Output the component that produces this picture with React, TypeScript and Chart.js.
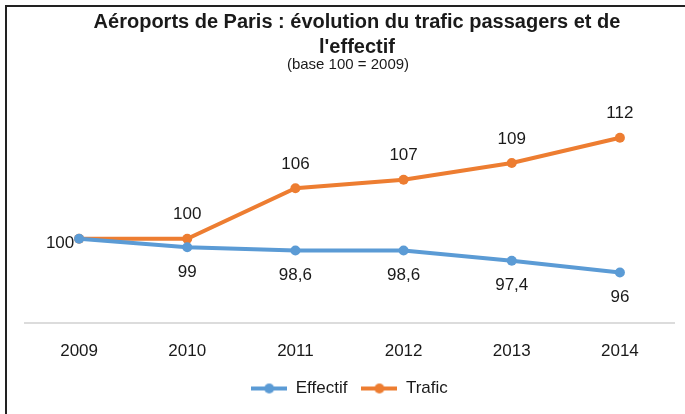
import React, { useEffect, useRef } from "react";
import { Chart, registerables } from "chart.js";

Chart.register(...registerables);

const years = ["2009", "2010", "2011", "2012", "2013", "2014"];
const effectif = [100, 99, 98.6, 98.6, 97.4, 96];
const trafic = [100, 100, 106, 107, 109, 112];
const seriesNames = ["Effectif", "Trafic"];
const titleLines = ["Aéroports de Paris : évolution du trafic passagers et de", "l'effectif"];
const subtitleText = "(base 100 = 2009)";

const BLUE = "#5B9BD5";
const ORANGE = "#ED7D31";
const TEXT = "#1a1a1a";
const FONT = "'Liberation Sans', Arial, sans-serif";

function legendIcon(color: string): HTMLCanvasElement {
  const c = document.createElement("canvas");
  c.width = 36;
  c.height = 12;
  const ctx = c.getContext("2d")!;
  ctx.strokeStyle = color;
  ctx.lineWidth = 4;
  ctx.beginPath();
  ctx.moveTo(0, 6);
  ctx.lineTo(36, 6);
  ctx.stroke();
  ctx.fillStyle = color;
  ctx.beginPath();
  ctx.arc(18, 6, 5, 0, Math.PI * 2);
  ctx.fill();
  return c;
}

const fmt = (v: number) => String(v).replace(".", ",");

const framePlugin = {
  id: "frameTitle",
  beforeDraw(chart: any) {
    const ctx = chart.ctx;
    ctx.save();
    ctx.fillStyle = "#fff";
    ctx.fillRect(0, 0, chart.width, chart.height);
    ctx.strokeStyle = "#222";
    ctx.lineWidth = 2;
    ctx.beginPath();
    ctx.moveTo(6, chart.height);
    ctx.lineTo(6, 6);
    ctx.lineTo(chart.width, 6);
    ctx.stroke();
    ctx.fillStyle = TEXT;
    ctx.textAlign = "center";
    ctx.textBaseline = "middle";
    ctx.font = `bold 20px ${FONT}`;
    ctx.fillText(titleLines[0], 357, 22);
    ctx.fillText(titleLines[1], 357, 47);
    ctx.font = `15px ${FONT}`;
    ctx.fillText(subtitleText, 348, 65);
    ctx.restore();
  },
};

const labelPlugin = {
  id: "pointLabels",
  afterDatasetsDraw(chart: any) {
    const ctx = chart.ctx;
    ctx.save();
    ctx.fillStyle = TEXT;
    ctx.font = `17px ${FONT}`;
    ctx.textAlign = "center";
    ctx.textBaseline = "middle";
    chart.data.datasets.forEach((ds: any, di: number) => {
      const meta = chart.getDatasetMeta(di);
      meta.data.forEach((pt: any, i: number) => {
        const v = ds.data[i];
        if (di === 0) {
          if (i === 0) return;
          ctx.fillText(fmt(v), pt.x, pt.y + 25);
        } else {
          if (i === 0) ctx.fillText(fmt(v), pt.x - 19, pt.y + 5);
          else ctx.fillText(fmt(v), pt.x, pt.y - 24);
        }
      });
    });
    ctx.restore();
  },
};

export default function App() {
  const ref = useRef<HTMLCanvasElement>(null);
  useEffect(() => {
    document.body.style.margin = "0";
    const icons = [legendIcon(BLUE), legendIcon(ORANGE)];
    const chart = new Chart(ref.current!, {
      type: "line",
      data: {
        labels: years,
        datasets: [
          {
            label: seriesNames[0],
            data: effectif,
            borderColor: BLUE,
            backgroundColor: BLUE,
            borderWidth: 4,
            pointRadius: 5,
            pointBackgroundColor: BLUE,
            pointBorderWidth: 0,
            tension: 0,
          },
          {
            label: seriesNames[1],
            data: trafic,
            borderColor: ORANGE,
            backgroundColor: ORANGE,
            borderWidth: 4,
            pointRadius: 5,
            pointBackgroundColor: ORANGE,
            pointBorderWidth: 0,
            tension: 0,
          },
        ],
      },
      options: {
        responsive: false,
        animation: false,
        layout: { padding: { top: 104, left: 25, right: 11, bottom: 7 } },
        scales: {
          x: {
            offset: true,
            grid: { display: false },
            border: { display: true, color: "#dcdcdc", width: 2 },
            ticks: { padding: 10, color: TEXT, font: { size: 17, family: FONT } },
            afterFit: (scale: any) => {
              scale.height = 43;
            },
          },
          y: { display: false, min: 90, max: 116 },
        },
        plugins: {
          legend: {
            position: "bottom",
            labels: {
              usePointStyle: true,
              pointStyleWidth: 36,
              padding: 14,
              color: TEXT,
              font: { size: 17, family: FONT },
              generateLabels: (chart: any) => {
                const items = Chart.defaults.plugins.legend.labels.generateLabels(chart);
                return items.map((it: any, i: number) => ({ ...it, pointStyle: icons[i] }));
              },
            },
          },
          title: { display: false },
          tooltip: { enabled: false },
        },
      },
      plugins: [framePlugin, labelPlugin],
    });
    return () => chart.destroy();
  }, []);
  return <canvas ref={ref} width={685} height={414} />;
}
